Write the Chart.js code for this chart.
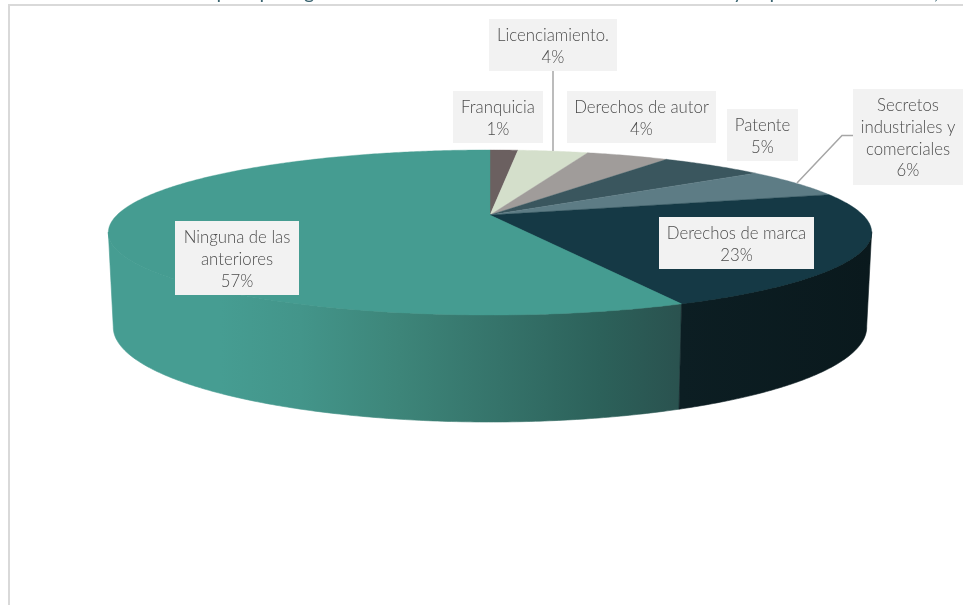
<!DOCTYPE html>
<html><head><meta charset="utf-8">
<style>html,body{margin:0;padding:0;background:#fff}canvas{display:block}</style>
<script src="https://cdn.jsdelivr.net/npm/chart.js@4"></script>
</head><body>
<canvas id="c" width="963" height="605"></canvas>
<script>
const categories = ['Franquicia','Licenciamiento.','Derechos de autor','Patente','Secretos industriales y comerciales','Derechos de marca','Ninguna de las anteriores'];
const values = [1.45,3.65,4.3,5.4,5.8,22.6,56.8];
const shownPercent = ['1%','4%','4%','5%','6%','23%','57%'];
const topColors = ['#6b6060','#d4dfcb','#a09c9a','#3a565e','#5d7c85','#153945','#459c91'];

// label layout (separate from the data)
const labelLines = [['Franquicia'],['Licenciamiento.'],['Derechos de autor'],['Patente'],['Secretos','industriales y','comerciales'],['Derechos de marca'],['Ninguna de las','anteriores']];
const labelBoxes = [[453,91,90,52],[489,19,128,52],[567,91,149,52],[727,109,71,52],[853,89,110,96],[659,217,155,52],[175,221,124,74]];
const leaders = [[[553,71],[553,151]],[[853,135.5],[842,135.5],[797,183]]];
// the bottoms of the cut-off title line, visible above the frame
const clippedTitleGlyphs = [['p',216.5],['p',259.5],['g',304],['y',733],['p',769.5],[',',934]];

// projection of the tilted disc
const P = {cx:490, cy:215, R:373, S:78.8, k:0.212, drop:92, botX:0.987, botY:1.15};
const wOf = s => 1 - P.k*s;
const topPt = a => { const s=Math.sin(a), w=wOf(s); return [P.cx+P.R*Math.cos(a)/w, P.cy+P.S*s/w]; };
const botPt = a => { const s=Math.sin(a), w=wOf(s); return [P.cx+P.botX*P.R*Math.cos(a)/w, P.cy+P.drop+P.botY*P.S*s/w]; };

function sideBand(ctx, start, end, fill){
  const pts=[]; const n=Math.max(2,Math.ceil((end-start)/0.01));
  for(let i=0;i<=n;i++){ const a=start+(end-start)*i/n; if(Math.sin(a)>=P.k-0.01) pts.push(a); }
  if(pts.length<2) return;
  ctx.fillStyle=fill; ctx.strokeStyle=fill; ctx.lineWidth=0.6;
  // underlay reaching inward, so no white bleeds through the rim
  ctx.beginPath(); ctx.moveTo(P.cx,P.cy);
  pts.forEach(a=>{const p=topPt(a); ctx.lineTo(p[0],p[1]);});
  ctx.closePath(); ctx.fill();
  ctx.beginPath();
  pts.forEach((a,i)=>{const p=topPt(a); i?ctx.lineTo(p[0],p[1]):ctx.moveTo(p[0],p[1]);});
  pts.slice().reverse().forEach(a=>{const p=botPt(a); ctx.lineTo(p[0],p[1]);});
  ctx.closePath(); ctx.fill(); ctx.stroke();
}

const pie3d = {
  id:'pie3d',
  beforeDatasetDraw(chart,args){
    const ctx=chart.ctx, arcs=chart.getDatasetMeta(0).data;
    ctx.save();
    const g=ctx.createLinearGradient(108,0,680,0);
    g.addColorStop(0,'#469d92'); g.addColorStop(0.196,'#469d92'); g.addColorStop(0.336,'#43958a');
    g.addColorStop(0.51,'#3d8579'); g.addColorStop(0.685,'#35736a'); g.addColorStop(0.86,'#2c615a'); g.addColorStop(1,'#2a524f');
    const h=ctx.createLinearGradient(680,0,870,0);
    h.addColorStop(0,'#0c1e23'); h.addColorStop(1,'#0a191d');
    const sides=[null,null,null,null,null,h,g];
    [6,5].forEach(i=>{ const el=arcs[i]; sideBand(ctx,el.startAngle,el.endAngle,sides[i]); });
    arcs.forEach((el,i)=>{
      const n=Math.max(4,Math.ceil((el.endAngle-el.startAngle)/0.01));
      ctx.beginPath(); ctx.moveTo(P.cx,P.cy);
      for(let j=0;j<=n;j++){ const p=topPt(el.startAngle+(el.endAngle-el.startAngle)*j/n); ctx.lineTo(p[0],p[1]); }
      ctx.closePath(); ctx.fillStyle=topColors[i]; ctx.fill();
      ctx.strokeStyle=topColors[i]; ctx.lineWidth=0.4; ctx.stroke();
    });
    ctx.restore();
    return false;
  },
  afterDatasetsDraw(chart){
    const ctx=chart.ctx;
    ctx.save();
    // cut-off title remnants
    ctx.save(); ctx.beginPath(); ctx.rect(0,0,963,4); ctx.clip();
    ctx.font='400 20px Lato'; ctx.fillStyle='#3a6470'; ctx.textAlign='left'; ctx.textBaseline='alphabetic';
    clippedTitleGlyphs.forEach(g=>ctx.fillText(g[0],g[1],-1));
    ctx.restore();
    // frame
    ctx.fillStyle='#d9d9d9'; ctx.fillRect(8,4,955,2); ctx.fillRect(8,4,2,601);
    // leaders
    ctx.strokeStyle='#a6a6a6'; ctx.lineWidth=1.5;
    leaders.forEach(l=>{ctx.beginPath(); l.forEach((p,i)=>i?ctx.lineTo(p[0],p[1]):ctx.moveTo(p[0],p[1])); ctx.stroke();});
    // labels
    ctx.textAlign='center'; ctx.textBaseline='middle'; ctx.font='300 16.8px Lato';
    categories.forEach((c,i)=>{
      const b=labelBoxes[i]; ctx.fillStyle='#f2f2f2'; ctx.fillRect(b[0],b[1],b[2],b[3]);
      const lines=[...labelLines[i],shownPercent[i]], lh=21.7, x=b[0]+b[2]/2;
      const y0=b[1]+b[3]/2-(lines.length-1)*lh/2+1.5;
      ctx.fillStyle='#4d4d4d';
      lines.forEach((t,j)=>ctx.fillText(t,x,y0+j*lh));
    });
    ctx.restore();
  }
};
new Chart(document.getElementById('c'),{
  type:'pie',
  data:{labels:categories,datasets:[{data:values,backgroundColor:topColors,borderWidth:0}]},
  options:{responsive:false,animation:false,events:[],plugins:{legend:{display:false},tooltip:{enabled:false},title:{display:false}}},
  plugins:[pie3d]
});
</script>
</body></html>
